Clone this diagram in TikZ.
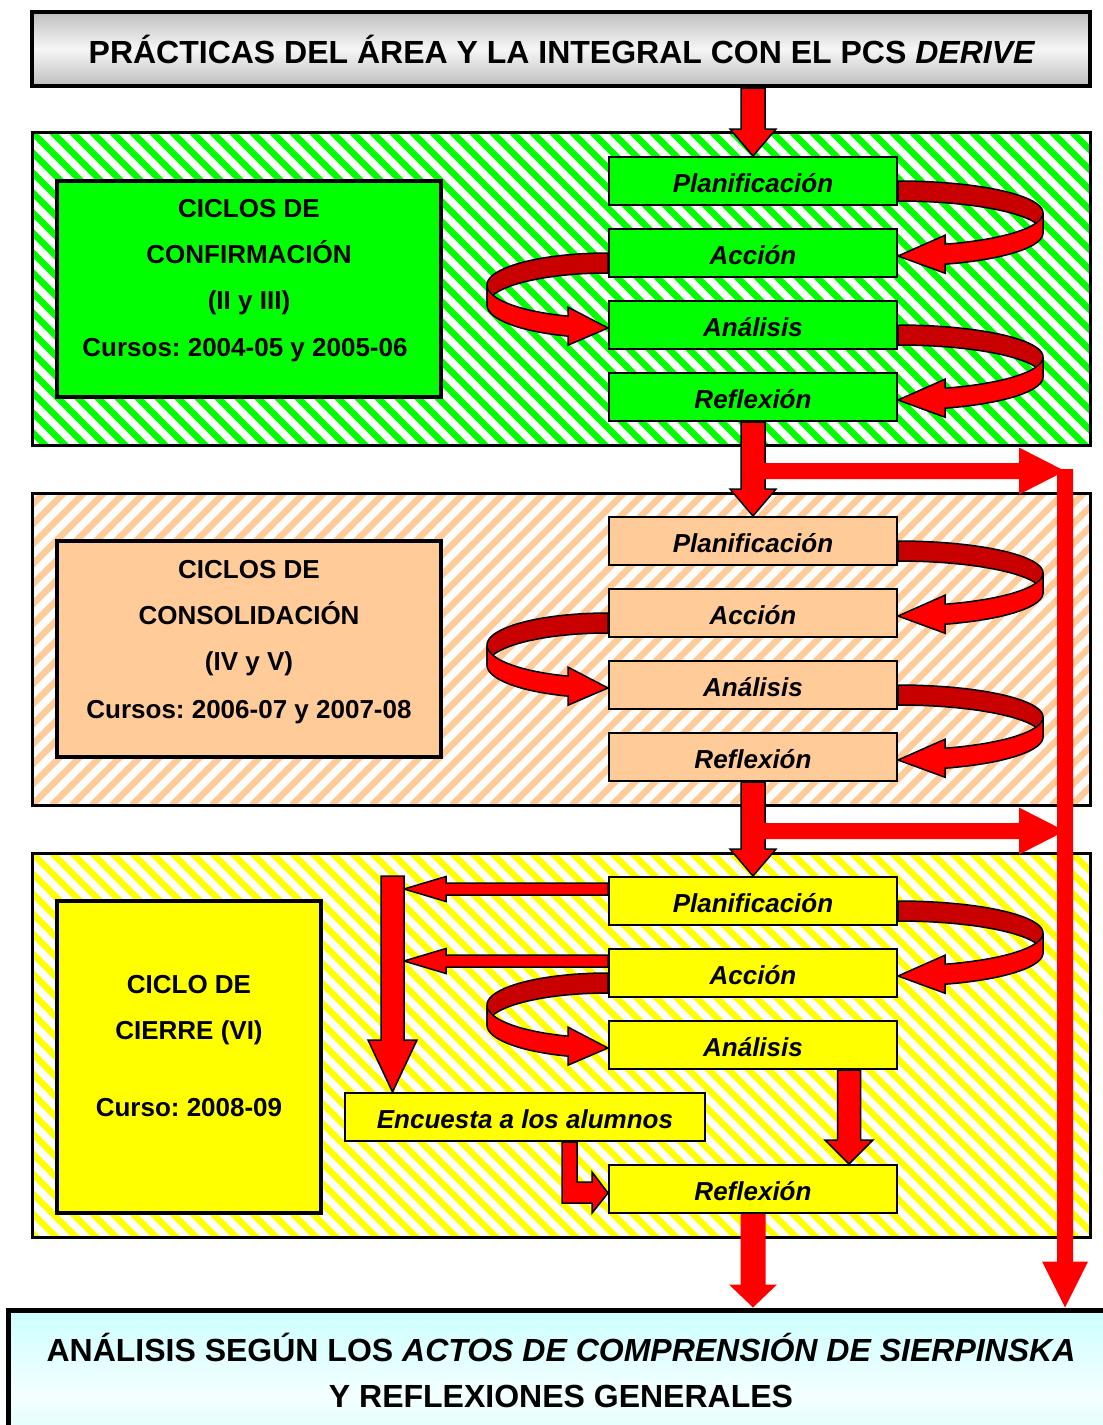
\documentclass[tikz,border=0pt]{standalone}
\usepackage{fontspec}
\setmainfont{Liberation Sans}
\usetikzlibrary{calc}
\frenchspacing

\definecolor{hgreen}{RGB}{0,255,0}
\definecolor{horange}{RGB}{255,204,153}
\definecolor{hyellow}{RGB}{255,255,0}
\definecolor{arrred}{RGB}{255,0,0}
\definecolor{arrdark}{RGB}{200,0,0}
\definecolor{titlegray}{RGB}{190,190,190}
\definecolor{titlelight}{RGB}{246,246,246}
\definecolor{bottomcyan}{RGB}{204,255,255}
\definecolor{bottomlight}{RGB}{244,255,255}

\tikzset{
  stagebox/.style={draw=black, line width=2pt, minimum width=288pt, minimum height=48pt,
    inner sep=0pt, text height=23pt, text depth=0pt,
    font=\fontsize{26}{30}\selectfont\bfseries\itshape},
  sidebox/.style={draw=black, line width=4pt, inner sep=0pt},
  sidetext/.style={anchor=base, inner sep=0pt, font=\fontsize{26}{30}\selectfont\bfseries},
  bigtext/.style={anchor=base, inner sep=0pt, font=\fontsize{32}{36}\selectfont\bfseries},
  blockframe/.style={draw=black, line width=3pt},
  redshape/.style={fill=arrred, draw=black, line width=1.5pt, line join=miter},
  redplain/.style={fill=arrred},
  curlback/.style={fill=arrdark, draw=black, line width=1.5pt, line join=round},
  curlfront/.style={fill=arrred, draw=black, line width=1.5pt, line join=miter},
}

% diagonal hatching of a block: #1 colour, #2..#5 corners, #6 = 1 for "\" stripes, -1 for "/"
\newcommand\hatchblock[6]{%
  \begin{scope}
    \clip (#2,#3) rectangle (#4,#5);
    \fill[white] (#2,#3) rectangle (#4,#5);
    \ifnum#6>0
      \foreach \k in {-460,-440,...,1100}
        \draw[#1, line width=6.5pt] ({#2+\k},#3) -- ++(460,460);
    \else
      \foreach \k in {-460,-440,...,1100}
        \draw[#1, line width=6.5pt] ({#2+\k},#5) -- ++(460,-460);
    \fi
  \end{scope}}

% ribbon-shaped curved arrow from one stage box to the next
% #1 source node, #2 target node, #3 side (1 east, -1 west), #4 reach, #5 head length
\newcommand\drawcurl[5]{%
  \ifnum#3>0 \path (#1.east); \else \path (#1.west); \fi
  \pgfgetlastxy{\curlx}{\curly}%
  \path (#2.center); \pgfgetlastxy{\curlxx}{\curlyy}%
  \pgfmathsetmacro\cxz{\curlx}%
  \pgfmathsetmacro\cya{-1*\curly}%
  \pgfmathsetmacro\cyt{-1*\curlyy+3}%
  \pgfmathsetmacro\ccy{\cya+42}%
  \pgfmathsetmacro\cryb{32}%
  \pgfmathsetmacro\cryf{\cyt-\ccy}%
  \pgfmathsetmacro\cthb{acos(#5/#4)}%
  \pgfmathsetmacro\cxb{\cxz+#3*#5}%
  \pgfmathsetmacro\ccb{\ccy+\cryf*sin(\cthb)}%
  \filldraw[curlback]
    plot[domain=90:0, samples=40, variable=\t] ({\cxz+#3*#4*cos(\t)},{\ccy-10-\cryb*sin(\t)})
    -- plot[domain=0:90, samples=40, variable=\t] ({\cxz+#3*#4*cos(\t)},{\ccy+10-\cryb*sin(\t)})
    -- cycle;
  \filldraw[curlfront]
    plot[domain=0:\cthb, samples=30, variable=\t] ({\cxz+#3*#4*cos(\t)},{\ccy-10+\cryf*sin(\t)})
    -- (\cxb,\ccb-19) -- (\cxz,\cyt) -- (\cxb,\ccb+19)
    -- plot[domain=\cthb:0, samples=30, variable=\t] ({\cxz+#3*#4*cos(\t)},{\ccy+10+\cryf*sin(\t)})
    -- cycle;
}

% block arrow pointing down: #1 style, #2 start, #3 tip, #4 shaft half width, #5 head half width, #6 head length
\newcommand\downblock[6]{%
  \path[#1] let \p1=#2, \p2=#3 in
    (\x2-#4pt,\y1) -- (\x2+#4pt,\y1) -- (\x2+#4pt,\y2+#6pt) -- (\x2+#5pt,\y2+#6pt)
    -- (\x2,\y2) -- (\x2-#5pt,\y2+#6pt) -- (\x2-#4pt,\y2+#6pt) -- cycle;}
% block arrow pointing left
\newcommand\leftblock[6]{%
  \path[#1] let \p1=#2, \p2=#3 in
    (\x1,\y2+#4pt) -- (\x2+#6pt,\y2+#4pt) -- (\x2+#6pt,\y2+#5pt) -- (\x2,\y2)
    -- (\x2+#6pt,\y2-#5pt) -- (\x2+#6pt,\y2-#4pt) -- (\x1,\y2-#4pt) -- cycle;}
% block arrow pointing right
\newcommand\rightblock[6]{%
  \path[#1] let \p1=#2, \p2=#3 in
    (\x1,\y2+#4pt) -- (\x2-#6pt,\y2+#4pt) -- (\x2-#6pt,\y2+#5pt) -- (\x2,\y2)
    -- (\x2-#6pt,\y2-#5pt) -- (\x2-#6pt,\y2-#4pt) -- (\x1,\y2-#4pt) -- cycle;}

\begin{document}
\begin{tikzpicture}[x=1pt, y=-1pt]
\useasboundingbox (0,0) rectangle (1103,1425);
\fill[white] (0,0) rectangle (1103,1425);

% ---------- title ----------
\node[draw=black, line width=4pt, minimum width=1058pt, minimum height=74pt, inner sep=0pt,
      top color=titlegray, bottom color=titlegray, middle color=titlelight] (title) at (561,49) {};
\node[bigtext] (titletext) at (562,63)
  {PRÁCTICAS DEL ÁREA Y LA INTEGRAL CON EL PCS \textit{DERIVE}};

% ---------- hatched blocks ----------
\hatchblock{hgreen}{32}{132}{1090}{445}{1}
\draw[blockframe] (32,132) rectangle (1090,445);
\hatchblock{horange}{32}{493}{1090}{805}{-1}
\draw[blockframe] (32,493) rectangle (1090,805);
\hatchblock{hyellow}{32}{853}{1090}{1237}{1}
\draw[blockframe] (32,853) rectangle (1090,1237);

% ---------- confirmation cycles ----------
\node[sidebox, fill=hgreen, minimum width=384pt, minimum height=216pt] (gside) at (249,289) {};
\node[sidetext] (gs1) at (249,217) {CICLOS DE};
\node[sidetext] (gs2) at (249,263) {CONFIRMACIÓN};
\node[sidetext] (gs3) at (249,309) {(II y III)};
\node[sidetext] (gs4) at (245,356) {Cursos: 2004-05 y 2005-06};

\node[stagebox, fill=hgreen] (g1) at (753,181) {Planificación};
\node[stagebox, fill=hgreen] (g2) at (753,253) {Acción};
\node[stagebox, fill=hgreen] (g3) at (753,325) {Análisis};
\node[stagebox, fill=hgreen] (g4) at (753,397) {Reflexión};
\drawcurl{g1}{g2}{1}{145}{47}
\drawcurl{g2}{g3}{-1}{121}{40}
\drawcurl{g3}{g4}{1}{145}{47}

% ---------- consolidation cycles ----------
\node[sidebox, fill=horange, minimum width=384pt, minimum height=216pt] (oside) at (249,649) {};
\node[sidetext] (os1) at (249,578) {CICLOS DE};
\node[sidetext] (os2) at (249,624) {CONSOLIDACIÓN};
\node[sidetext] (os3) at (249,670) {(IV y V)};
\node[sidetext] (os4) at (249,718) {Cursos: 2006-07 y 2007-08};

\node[stagebox, fill=horange] (o1) at (753,541) {Planificación};
\node[stagebox, fill=horange] (o2) at (753,613) {Acción};
\node[stagebox, fill=horange] (o3) at (753,685) {Análisis};
\node[stagebox, fill=horange] (o4) at (753,757) {Reflexión};
\drawcurl{o1}{o2}{1}{145}{47}
\drawcurl{o2}{o3}{-1}{121}{40}
\drawcurl{o3}{o4}{1}{145}{47}

% ---------- closing cycle ----------
\node[sidebox, fill=hyellow, minimum width=264pt, minimum height=312pt] (yside) at (189,1057) {};
\node[sidetext] (ys1) at (189,993) {CICLO DE};
\node[sidetext] (ys2) at (189,1039) {CIERRE (VI)};
\node[sidetext] (ys3) at (189,1116) {Curso: 2008-09};

\node[stagebox, fill=hyellow] (y1) at (753,901) {Planificación};
\node[stagebox, fill=hyellow] (y2) at (753,973) {Acción};
\node[stagebox, fill=hyellow] (y3) at (753,1045) {Análisis};
\node[stagebox, fill=hyellow] (y4) at (753,1189) {Reflexión};
\node[stagebox, fill=hyellow, minimum width=360pt] (enc) at (525,1117) {Encuesta a los alumnos};
\drawcurl{y1}{y2}{1}{145}{47}
\drawcurl{y2}{y3}{-1}{121}{40}

% ---------- final box ----------
\node[draw=black, line width=5pt, minimum width=1105pt, minimum height=170pt, inner sep=0pt,
      top color=bottomcyan, bottom color=bottomcyan, middle color=bottomlight] (fin) at (560.5,1395) {};
\node[bigtext] (fin1) at (561,1361)
  {ANÁLISIS SEGÚN LOS \textit{ACTOS DE COMPRENSIÓN DE SIERPINSKA}};
\node[bigtext] (fin2) at (561,1407) {Y REFLEXIONES GENERALES};

% ---------- connectors ----------
\coordinate (vtop) at (1065,469);
\coordinate (br1) at ($(g4.south)+(11,49)$);
\coordinate (br2) at ($(o4.south)+(11,49)$);
\coordinate (vb) at ($(enc.north west)+(48.5,-216)$);

\downblock{redshape}{(title.south)}{(g1.north)}{12}{23}{27}
\downblock{redshape}{(g4.south)}{(o1.north)}{12}{23}{27}
\rightblock{redplain}{(br1)}{(br1 -| vtop)}{8}{23.5}{46}
\downblock{redshape}{(o4.south)}{(y1.north)}{12}{23}{27}
\rightblock{redplain}{(br2)}{(br2 -| vtop)}{8}{23.5}{46}
\downblock{redplain}{(vtop)}{(vtop |- fin.north)}{8}{23}{46}

% inside the closing cycle
\leftblock{redshape}{($(y1.west)+(0,-12)$)}{($(vb |- y1.west)+(11.5,-12)$)}{6}{12.5}{42}
\leftblock{redshape}{($(y2.west)+(0,-12)$)}{($(vb |- y2.west)+(11.5,-12)$)}{6}{12.5}{42}
\downblock{redshape}{(vb)}{(vb |- enc.north)}{11.5}{24.5}{52}
\downblock{redshape}{($(y3.south)+(96,0)$)}{($(y4.north)+(96,0)$)}{11.5}{24}{24}
\path[redshape] let \p1=($(enc.south)+(44.5,0)$), \p2=($(y4.west)+(0,4)$) in
  (\x1-7.5pt,\y1) -- (\x1+7.5pt,\y1) -- (\x1+7.5pt,\y2+11pt) -- (\x2-16pt,\y2+11pt)
  -- (\x2-16pt,\y2+21pt) -- (\x2,\y2) -- (\x2-16pt,\y2-20pt) -- (\x2-16pt,\y2-10pt)
  -- (\x1-7.5pt,\y2-10pt) -- cycle;
\downblock{redplain}{(y4.south)}{(y4.south |- fin.north)}{12.5}{24}{23}
\end{tikzpicture}
\end{document}
